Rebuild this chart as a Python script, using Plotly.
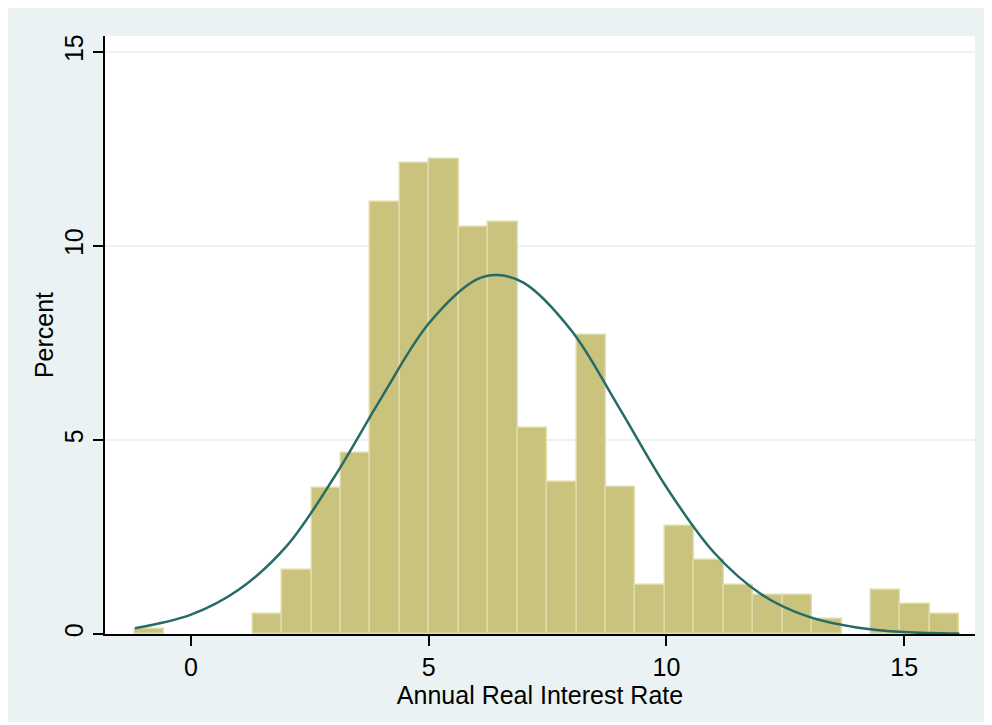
import plotly.graph_objects as go

# Histogram: 28 bins starting at -1.18, width ~0.6193 (percent per bin)
bin_start = -1.18
bin_width = 0.6193
percent = [0.13, None, None, None, 0.52, 1.65, 3.77, 4.67, 11.13, 12.13, 12.24, 10.48,
           10.62, 5.30, 3.91, 7.71, 3.78, 1.26, 2.78, 1.91, 1.26, 1.01, 1.00,
           0.38, None, 1.13, 0.77, 0.51]

# Normal density overlay
curve_x = [-1.18, 0, 1, 2, 3, 4, 5, 6, 6.44, 7, 8, 9, 10, 11, 12, 13, 14, 15, 16.16]
curve_y = [0.15, 0.50, 1.14, 2.25, 4.02, 6.08, 8.00, 9.13, 9.25, 9.05, 7.82, 5.84,
           3.78, 2.10, 1.02, 0.44, 0.17, 0.05, 0.01]

x_ticks = [0, 5, 10, 15]
y_ticks = [0, 5, 10, 15]

centers = [bin_start + (i + 0.5) * bin_width for i in range(len(percent))]

BG = "rgb(234,242,243)"
FONT = "Liberation Sans, Arial, sans-serif"
FS = 25

fig = go.Figure()
fig.add_trace(go.Bar(
    x=centers, y=percent, width=[bin_width] * len(percent),
    marker=dict(color="rgb(201,195,126)",
                line=dict(color="rgb(224,220,168)", width=1.5)),
    hoverinfo="x+y", showlegend=False,
))
fig.add_trace(go.Scatter(
    x=curve_x, y=curve_y, mode="lines",
    line=dict(color="rgb(38,107,101)", width=2.5, shape="spline", smoothing=1.0),
    showlegend=False,
))

fig.update_layout(
    width=984, height=714,
    margin=dict(l=97, r=17, t=28, b=88),
    paper_bgcolor=BG, plot_bgcolor="white",
    bargap=0,
    font=dict(family=FONT, color="black", size=FS),
)
fig.update_xaxes(
    range=[-1.81, 16.49], tickvals=x_ticks, ticktext=[str(v) for v in x_ticks],
    ticks="outside", ticklen=10, tickwidth=1.5, tickcolor="black",
    showline=True, linecolor="black", linewidth=1.5, showgrid=False, zeroline=False,
    tickfont=dict(size=FS),
    title=dict(text="Annual Real Interest Rate", font=dict(size=FS), standoff=0),
)
fig.update_yaxes(
    range=[0, 15.41], tickvals=y_ticks, ticktext=[str(v) for v in y_ticks],
    ticks="outside", ticklen=10, tickwidth=1.5, tickcolor="black", tickangle=-90,
    showline=True, linecolor="black", linewidth=1.5,
    showgrid=True, gridcolor=BG, gridwidth=2, zeroline=False,
    tickfont=dict(size=FS),
    title=dict(text="Percent", font=dict(size=FS), standoff=0),
)

fig.write_html("out.html")
